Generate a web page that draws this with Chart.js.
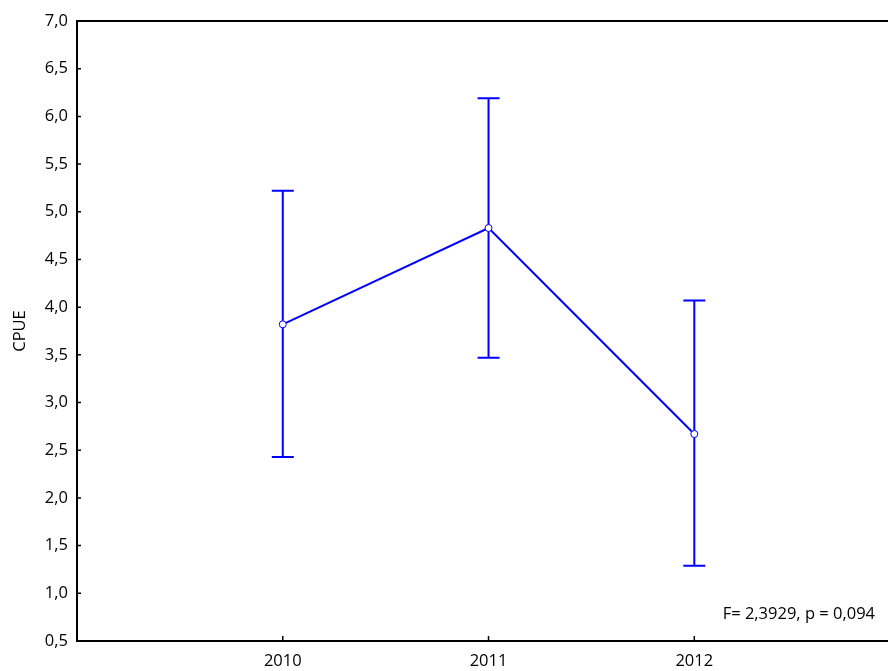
<!DOCTYPE html>
<html>
<head>
<meta charset="utf-8">
<script src="https://cdn.jsdelivr.net/npm/chart.js@4.4.1/dist/chart.umd.min.js"></script>
<style>
  html, body { margin: 0; padding: 0; background: #fff; }
  #wrap { width: 888px; height: 671px; }
</style>
</head>
<body>
<div id="wrap"><canvas id="cpue"></canvas></div>
<script>
  // values
  const years = ['2010', '2011', '2012'];
  const means = [3.82, 4.83, 2.67];
  const upper = [5.22, 6.19, 4.07];
  const lower = [2.43, 3.47, 1.29];
  const yTicks = [0.5, 1.0, 1.5, 2.0, 2.5, 3.0, 3.5, 4.0, 4.5, 5.0, 5.5, 6.0, 6.5, 7.0];
  const statText = 'F= 2,3929, p = 0,094';

  const blue = '#0000ff';
  const font = { family: 'Open Sans', size: 16.5 };

  const comma = v => v.toFixed(1).replace('.', ',');

  // error bars, inward tick marks, top frame and stats text
  const decor = {
    id: 'decor',
    beforeDatasetsDraw(chart) {
      const ctx = chart.ctx, xs = chart.scales.x, ys = chart.scales.y;
      ctx.save();
      ctx.strokeStyle = blue;
      ctx.lineWidth = 2;
      means.forEach((m, i) => {
        const px = xs.getPixelForValue(i);
        const top = ys.getPixelForValue(upper[i]);
        const bot = ys.getPixelForValue(lower[i]);
        ctx.beginPath();
        ctx.moveTo(px, top); ctx.lineTo(px, bot);
        ctx.moveTo(px - 11, top); ctx.lineTo(px + 11, top);
        ctx.moveTo(px - 11, bot); ctx.lineTo(px + 11, bot);
        ctx.stroke();
      });
      ctx.restore();
    },
    afterDraw(chart) {
      const ctx = chart.ctx, a = chart.chartArea;
      const xs = chart.scales.x, ys = chart.scales.y;
      ctx.save();
      ctx.strokeStyle = '#000';
      ctx.lineWidth = 2;
      ctx.beginPath();
      ctx.moveTo(a.left - 1, a.top); ctx.lineTo(chart.width, a.top);
      ctx.moveTo(a.right - 1, a.bottom); ctx.lineTo(chart.width, a.bottom);
      ctx.stroke();
      ctx.lineWidth = 1.5;
      ctx.beginPath();
      yTicks.forEach(v => {
        const py = ys.getPixelForValue(v);
        ctx.moveTo(a.left, py); ctx.lineTo(a.left + 4, py);
      });
      years.forEach((y, i) => {
        const px = xs.getPixelForValue(i);
        ctx.moveTo(px, a.bottom); ctx.lineTo(px, a.bottom - 5);
      });
      ctx.stroke();
      ctx.fillStyle = '#000';
      ctx.font = font.size + 'px "' + font.family + '"';
      ctx.textAlign = 'right';
      ctx.textBaseline = 'middle';
      ctx.fillText(statText, chart.width - 13, 614);
      ctx.restore();
    }
  };

  new Chart(document.getElementById('cpue'), {
    type: 'scatter',
    data: {
      datasets: [{
        data: means.map((m, i) => ({ x: i, y: m })),
        showLine: true,
        borderColor: blue,
        borderWidth: 2,
        pointRadius: 3.5,
        pointBackgroundColor: '#fff',
        pointBorderColor: blue,
        pointBorderWidth: 1
      }]
    },
    options: {
      responsive: true,
      maintainAspectRatio: false,
      animation: false,
      layout: { padding: { top: 21, right: 0, left: 10, bottom: 0 } },
      plugins: {
        legend: { display: false },
        tooltip: { enabled: false }
      },
      scales: {
        x: {
          type: 'linear',
          min: -1,
          max: 2.917,
          afterBuildTicks: s => { s.ticks = years.map((y, i) => ({ value: i })); },
          afterFit: s => { s.height = 30; },
          grid: { display: false, drawTicks: false },
          border: { display: true, color: '#000', width: 2 },
          ticks: {
            color: '#000',
            font: font,
            padding: 10,
            maxRotation: 0,
            callback: v => years[v]
          }
        },
        y: {
          min: 0.5,
          max: 7.0,
          afterBuildTicks: s => { s.ticks = yTicks.map(v => ({ value: v })); },
          afterFit: s => { s.width = 67; },
          grid: { display: false, drawTicks: false },
          border: { display: true, color: '#000', width: 2 },
          title: { display: true, text: 'CPUE', color: '#000', font: font, padding: 0 },
          ticks: {
            color: '#000',
            font: font,
            padding: 9,
            callback: v => comma(v)
          }
        }
      }
    },
    plugins: [decor]
  });
</script>
</body>
</html>
